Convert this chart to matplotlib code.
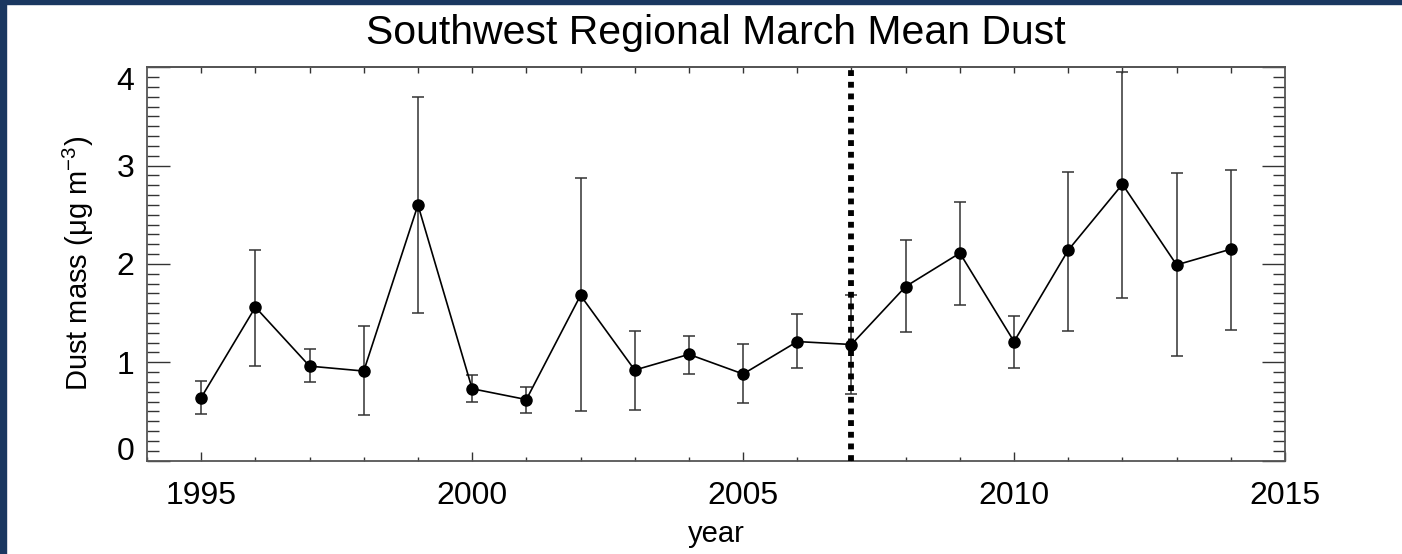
import numpy as np
import matplotlib
matplotlib.use('Agg')
import matplotlib.pyplot as plt
from matplotlib.patches import Rectangle

# Data ======================================================================= #
years = [1995, 1996, 1997, 1998, 1999, 2000, 2001, 2002, 2003, 2004,
         2005, 2006, 2007, 2008, 2009, 2010, 2011, 2012, 2013, 2014]
dust_mean = [0.64, 1.56, 0.96, 0.91, 2.60, 0.73, 0.62, 1.68, 0.92, 1.08,
             0.88, 1.21, 1.18, 1.77, 2.11, 1.21, 2.14, 2.81, 1.99, 2.15]
err_low = [0.47, 0.96, 0.80, 0.46, 1.50, 0.60, 0.48, 0.50, 0.51, 0.88,
           0.58, 0.94, 0.68, 1.31, 1.58, 0.94, 1.32, 1.65, 1.06, 1.33]
err_high = [0.81, 2.14, 1.13, 1.37, 3.70, 0.87, 0.75, 2.87, 1.32, 1.27,
            1.19, 1.49, 1.68, 2.24, 2.63, 1.47, 2.93, 3.95, 2.92, 2.96]
split_year = 2007
x_ticks = [1995, 2000, 2005, 2010, 2015]
y_ticks = [0, 1, 2, 3, 4]

# Fonts ----------------------------------------------------------------------- #
plt.rcParams['font.family'] = ['Liberation Sans', 'DejaVu Sans']
plt.rcParams['mathtext.default'] = 'regular'

fig = plt.figure(figsize=(14.02, 5.54), dpi=100)
ax = fig.add_axes([147 / 1402, 1 - 460.5 / 554, (1285 - 147) / 1402, (460.5 - 67.3) / 554])

# dark frame on left and top edge of the picture ----------------------------- #
frame_color = '#1a3760'
fig.patches.append(Rectangle((0, 0), 6 / 1402, 1, transform=fig.transFigure,
                             color=frame_color, zorder=10))
fig.patches.append(Rectangle((0, 1 - 4 / 554), 1, 4 / 554, transform=fig.transFigure,
                             color=frame_color, zorder=10))

# Plot ------------------------------------------------------------------------ #
mean = np.array(dust_mean)
yerr = [mean - np.array(err_low), np.array(err_high) - mean]
ax.errorbar(years, mean, yerr=yerr, fmt='none', ecolor='#333333',
            elinewidth=1.1, capsize=4.5, capthick=1.1, zorder=2)
ax.plot(years, mean, color='black', lw=1.2, marker='o', ms=8,
        mfc='black', mec='black', zorder=3)
ax.axvline(split_year, color='black', lw=4.2, ls=(0, (1, 1)), zorder=4)

# Axes ------------------------------------------------------------------------ #
ax.set_xlim(1994, 2015)
ax.set_ylim(0, 4)
ax.set_xticks(x_ticks)
ax.set_xticks(np.arange(1994, 2016), minor=True)
ax.set_yticks(y_ticks)
ax.set_yticks(np.arange(0, 4.01, 0.1), minor=True)

ax.tick_params(axis='x', which='major', direction='in', length=6.5, width=1.0,
               labelsize=23, pad=14.5, color='#333333')
ax.tick_params(axis='x', which='minor', direction='in', length=3, width=1.0,
               color='#333333')
ax.tick_params(axis='y', which='major', direction='in', length=16.5, width=1.0,
               labelsize=23, pad=9, right=True, color='#333333')
ax.tick_params(axis='y', which='minor', direction='in', length=8.5, width=1.0,
               right=True, color='#333333')

# end labels kept inside the axis range, like the original
ylabels = ax.get_yticklabels()
ylabels[0].set_va('baseline')
ylabels[-1].set_va('top')

# top axis: small ticks every year, no labels
top = ax.secondary_xaxis('top')
top.set_xticks(np.arange(1995, 2015))
top.tick_params(direction='in', length=4, width=1.0, labeltop=False, color='#333333')
top.spines['top'].set_color('#555555')
top.spines['top'].set_linewidth(1.3)

for sp in ax.spines.values():
    sp.set_color('#555555')
    sp.set_linewidth(1.3)

ax.set_title('Southwest Regional March Mean Dust', fontsize=29.5, pad=17)
ax.set_xlabel('year', fontsize=21, labelpad=7)
ax.set_ylabel('Dust mass (μg m$^{-3}$)', fontsize=21, labelpad=15)

fig.savefig('out.png', dpi=100)
